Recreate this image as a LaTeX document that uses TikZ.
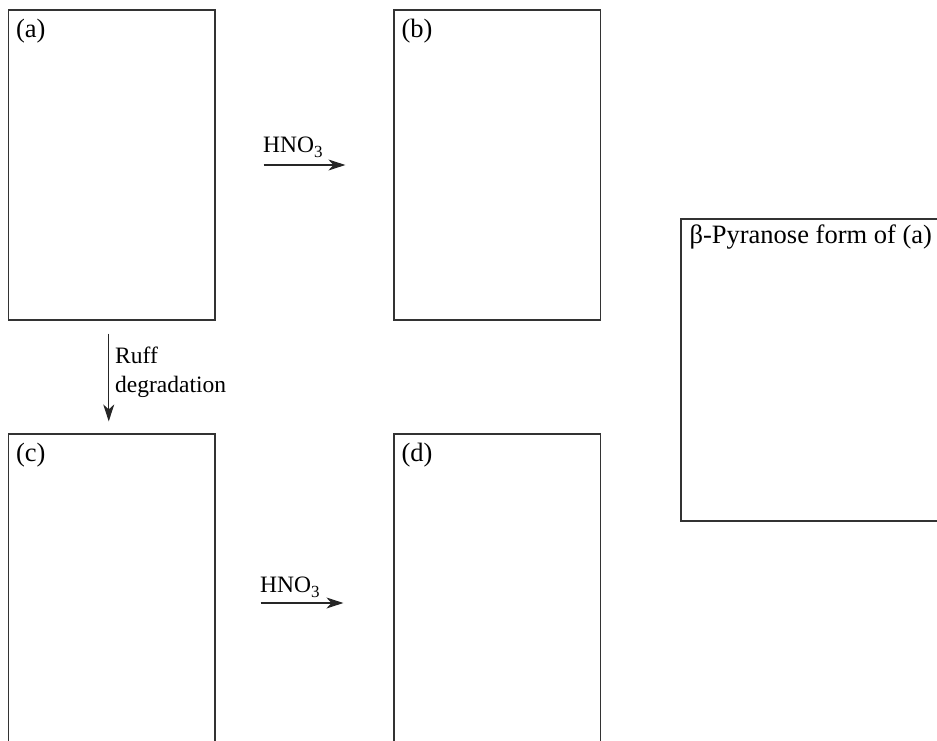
\documentclass[tikz,border=0pt]{standalone}
\usepackage{fontspec}
\setmainfont{Liberation Serif}
\usetikzlibrary{arrows.meta}

\begin{document}
\begin{tikzpicture}[
  x=1pt, y=-1pt,
  every node/.style={font=\fontsize{23.5}{29}\selectfont},
  caja/.style={rectangle, draw=black!80, line width=1.2pt, inner sep=0pt, minimum width=206.5pt},
  etiqueta/.style={anchor=north west, inner sep=0pt, font=\fontsize{26.5}{31}\selectfont},
  reactivo/.style={anchor=base west, inner sep=0pt},
  flecha/.style={draw=black!85, line width=1.2pt, -{Stealth[length=17pt, width=11pt, inset=5pt]}}
]
  \useasboundingbox (0,0) rectangle (937,741);

  % Cajas superiores
  \node[caja, minimum height=310pt] (a) at (111.75,165) {};
  \node[caja, minimum height=310pt] (b) at (497.25,165) {};

  % Cajas inferiores (abiertas por abajo)
  \node[caja, minimum height=338pt] (c) at (111.75,603) {};
  \node[caja, minimum height=338pt] (d) at (497.25,603) {};

  % Caja de la derecha
  \node[caja, minimum width=280pt, minimum height=302pt] (e) at (821,370) {};

  % Etiquetas de las cajas
  \node[etiqueta] (la) at ([xshift=8pt, yshift=-10pt]a.north west) {(a)};
  \node[etiqueta] (lb) at ([xshift=8pt, yshift=-10pt]b.north west) {(b)};
  \node[etiqueta] (lc) at ([xshift=8pt, yshift=-10pt]c.north west) {(c)};
  \node[etiqueta] (ld) at ([xshift=8pt, yshift=-10pt]d.north west) {(d)};
  \node[etiqueta] (le) at ([xshift=9pt, yshift=-6pt]e.north west) {β-Pyranose form of (a)};

  % Oxidacion con HNO3
  \draw[flecha, shorten <=48pt, shorten >=48pt] (a) -- (b);
  \node[reactivo] (hno1) at (263,153) {HNO\raisebox{-5pt}{\fontsize{17}{20}\selectfont 3}};
  \draw[flecha, shorten <=45pt, shorten >=50pt] (c) -- (d);
  \node[reactivo] (hno2) at (260,592) {HNO\raisebox{-5pt}{\fontsize{17}{20}\selectfont 3}};

  % Degradacion de Ruff
  \draw[flecha, shorten <=13pt, shorten >=12pt] ([xshift=-3pt]a.south) -- ([xshift=-3pt]c.north);
  \node[reactivo, align=left] (ruff) at (115,392) {Ruff\\degradation};

\end{tikzpicture}
\end{document}
